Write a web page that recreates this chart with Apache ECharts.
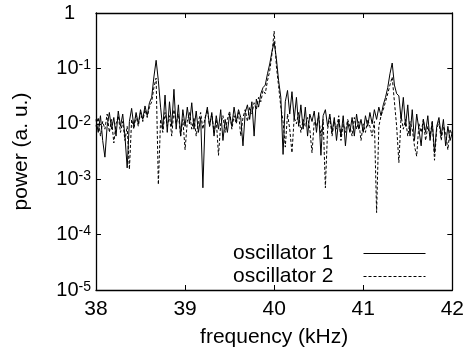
<!DOCTYPE html>
<html><head><meta charset="utf-8">
<script src="https://cdn.jsdelivr.net/npm/echarts@6/dist/echarts.min.js"></script>
<style>html,body{margin:0;padding:0;background:#fff}#c{width:467px;height:354px}</style>
</head><body><div id="c"></div>
<script>
// sampling grid of the spectra (kHz)
const freqStart = 38, freqStep = 0.025;
// power spectrum, oscillator 1 (solid)
const osc1 = [
  0.012, 0.007, 0.014, 0.005, 0.0025, 0.009, 0.016, 0.008, 0.013, 0.006,
  0.017, 0.009, 0.015, 0.006, 0.0016, 0.011, 0.019, 0.009, 0.016, 0.010,
  0.018, 0.012, 0.021, 0.014, 0.024, 0.03, 0.07, 0.14, 0.06, 0.02,
  0.008, 0.033, 0.007, 0.025, 0.009, 0.042, 0.008, 0.022, 0.006, 0.018,
  0.009, 0.02, 0.01, 0.024, 0.008, 0.017, 0.007, 0.013, 0.0007, 0.012,
  0.02, 0.009, 0.016, 0.006, 0.014, 0.008, 0.018, 0.005, 0.012, 0.007,
  0.015, 0.009, 0.02, 0.011, 0.018, 0.013, 0.004, 0.016, 0.022, 0.012,
  0.025, 0.006, 0.028, 0.02, 0.035, 0.045, 0.05, 0.08, 0.12, 0.2,
  0.3, 0.15, 0.06, 0.03, 0.0028, 0.025, 0.04, 0.015, 0.038, 0.012,
  0.03, 0.009, 0.022, 0.008, 0.02, 0.006, 0.015, 0.011, 0.017, 0.007,
  0.016, 0.0027, 0.014, 0.018, 0.009, 0.015, 0.007, 0.013, 0.005, 0.012,
  0.006, 0.014, 0.004, 0.011, 0.007, 0.013, 0.006, 0.015, 0.008, 0.012,
  0.007, 0.014, 0.009, 0.016, 0.01, 0.018, 0.012, 0.02, 0.014, 0.022,
  0.03, 0.045, 0.08, 0.125, 0.05, 0.035, 0.032, 0.012, 0.03, 0.009,
  0.022, 0.006, 0.018, 0.005, 0.015, 0.008, 0.004, 0.012, 0.007, 0.014,
  0.005, 0.011, 0.003, 0.009, 0.013, 0.006, 0.012, 0.004, 0.009, 0.005,
  0.007
];
// power spectrum, oscillator 2 (dashed)
const osc2 = [
  0.009, 0.013, 0.006, 0.011, 0.008, 0.015, 0.007, 0.012, 0.0045, 0.01,
  0.014, 0.007, 0.011, 0.005, 0.009, 0.0015, 0.012, 0.008, 0.014, 0.009,
  0.016, 0.011, 0.018, 0.013, 0.02, 0.025, 0.045, 0.067, 0.0008, 0.012,
  0.007, 0.016, 0.009, 0.014, 0.006, 0.018, 0.01, 0.015, 0.006, 0.012,
  0.0034, 0.011, 0.016, 0.008, 0.013, 0.006, 0.011, 0.016, 0.008, 0.013,
  0.018, 0.009, 0.015, 0.007, 0.012, 0.0027, 0.01, 0.014, 0.007, 0.012,
  0.017, 0.008, 0.014, 0.01, 0.016, 0.006, 0.013, 0.018, 0.011, 0.02,
  0.015, 0.024, 0.018, 0.03, 0.025, 0.04, 0.035, 0.06, 0.09, 0.18,
  0.47, 0.11, 0.047, 0.02, 0.011, 0.0038, 0.015, 0.008, 0.003, 0.013,
  0.01, 0.016, 0.007, 0.012, 0.009, 0.013, 0.008, 0.003, 0.011, 0.009,
  0.014, 0.006, 0.012, 0.0007, 0.008, 0.013, 0.006, 0.011, 0.008, 0.014,
  0.005, 0.01, 0.007, 0.012, 0.009, 0.006, 0.013, 0.008, 0.011, 0.005,
  0.01, 0.007, 0.012, 0.009, 0.006, 0.011, 0.00025, 0.009, 0.014, 0.018,
  0.025, 0.035, 0.05, 0.07, 0.025, 0.009, 0.002, 0.014, 0.008, 0.012,
  0.006, 0.011, 0.008, 0.004, 0.0026, 0.01, 0.007, 0.012, 0.005, 0.009,
  0.006, 0.011, 0.0022, 0.008, 0.011, 0.005, 0.009, 0.007, 0.0034, 0.008,
  0.006
];
const seriesNames = ['oscillator 1', 'oscillator 2'];
const xRange = [38, 42];
const yRange = [1e-5, 1];

const freq = osc1.map((_, i) => +(freqStart + i * freqStep).toFixed(3));
const FONT = '"Liberation Sans", Arial, Helvetica, sans-serif';

const chart = echarts.init(document.getElementById('c'), null, { renderer: 'canvas' });
const axisLine = { show: true, onZero: false, lineStyle: { color: '#000', width: 1.3 } };
const tick = { show: true, inside: true, length: 5, lineStyle: { color: '#000', width: 1 } };

chart.setOption({
  animation: false,
  backgroundColor: '#fff',
  textStyle: { fontFamily: FONT, color: '#000' },
  grid: { left: 96, right: 14, top: 13, bottom: 64, containLabel: false },
  legend: {
    orient: 'vertical', right: 36, top: 238, align: 'right',
    itemWidth: 62, itemHeight: 12, itemGap: 2,
    itemStyle: { opacity: 0 },
    lineStyle: { width: 1 },
    textStyle: { fontSize: 21, fontFamily: FONT, color: '#000', padding: [0, 25, 0, 0] },
    data: seriesNames
  },
  xAxis: [
    {
      type: 'value', min: xRange[0], max: xRange[1], interval: 1, position: 'bottom',
      name: 'frequency (kHz)', nameLocation: 'middle', nameGap: 37,
      nameTextStyle: { fontSize: 21, fontFamily: FONT, color: '#000' },
      axisLine, axisTick: tick, splitLine: { show: false },
      axisLabel: { fontSize: 21, fontFamily: FONT, color: '#000', margin: 9 }
    },
    {
      type: 'value', min: xRange[0], max: xRange[1], interval: 1, position: 'top',
      axisLine, axisTick: tick, splitLine: { show: false }, axisLabel: { show: false }
    }
  ],
  yAxis: [
    {
      type: 'log', logBase: 10, min: yRange[0], max: yRange[1], position: 'left',
      name: 'power (a. u.)', nameLocation: 'middle', nameGap: 64,
      nameTextStyle: { fontSize: 21, fontFamily: FONT, color: '#000' },
      axisLine, axisTick: tick, splitLine: { show: false }, minorTick: { show: false },
      axisLabel: {
        margin: 5, color: '#000',
        formatter: v => {
          const e = Math.round(Math.log10(v));
          return e === 0 ? '{one|1}' : '{b|10}{s|' + e + '}';
        },
        rich: {
          one: { fontSize: 20, fontFamily: FONT, color: '#000', padding: [0, 16, 0, 0] },
          b: { fontSize: 20, fontFamily: FONT, color: '#000', lineHeight: 20, verticalAlign: 'bottom' },
          s: { fontSize: 14, fontFamily: FONT, color: '#000', lineHeight: 14, verticalAlign: 'top' }
        }
      }
    },
    {
      type: 'log', logBase: 10, min: yRange[0], max: yRange[1], position: 'right',
      axisLine, axisTick: tick, splitLine: { show: false }, axisLabel: { show: false }
    }
  ],
  series: [
    {
      name: seriesNames[0], type: 'line', xAxisIndex: 0, yAxisIndex: 0,
      data: freq.map((f, i) => [f, osc1[i]]),
      symbol: 'none', lineStyle: { color: '#000', width: 1, type: 'solid' },
      itemStyle: { color: '#000' }
    },
    {
      name: seriesNames[1], type: 'line', xAxisIndex: 0, yAxisIndex: 0,
      data: freq.map((f, i) => [f, osc2[i]]),
      symbol: 'none', lineStyle: { color: '#000', width: 1, type: [3, 2] },
      itemStyle: { color: '#000' }
    }
  ]
});
</script>
</body></html>
